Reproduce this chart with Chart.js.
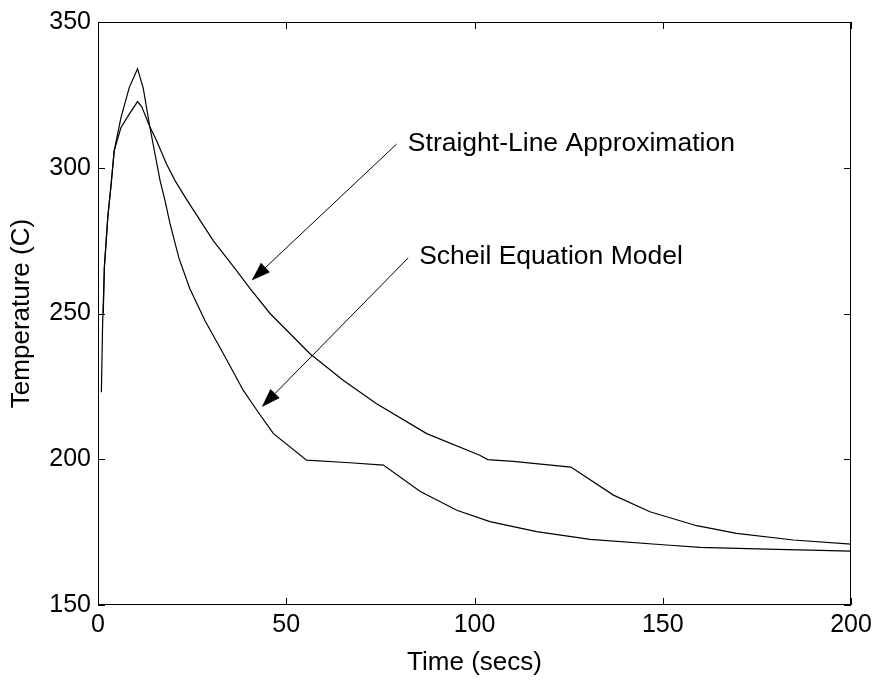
<!DOCTYPE html>
<html>
<head>
<meta charset="utf-8">
<script src="https://cdn.jsdelivr.net/npm/chart.js@4"></script>
<style>
  html, body { margin: 0; padding: 0; background: #fff; }
  #wrap { width: 877px; height: 681px; }
</style>
</head>
<body>
<div id="wrap"><canvas id="c" width="877" height="681"></canvas></div>
<script>
// ---- Data ----
const xTicks = [0, 50, 100, 150, 200];
const yTicks = [150, 200, 250, 300, 350];

const scheilTime = [0.9, 1.2, 1.7, 2.6, 3.5, 4.3, 6.1, 8.3, 10.5, 12.0, 13.8, 16.5, 17.8, 19.1, 21.5, 24.4, 28.4, 33.3, 38.6, 42.2, 46.6, 55.4, 66.9, 75.8, 85.5, 95.3, 104.1, 116.5, 130.7, 151.9, 159.9, 177.6, 200];
const scheilTemp = [223, 245, 266, 283, 294.5, 305.8, 317.2, 327.5, 334, 327.4, 313.8, 295.5, 288.7, 281, 269, 258.5, 247.6, 236.2, 223.6, 216.8, 208.8, 199.7, 198.8, 198, 189, 182.5, 178.6, 175.2, 172.5, 170.5, 169.8, 169.2, 168.5];

const straightTime = [1.4, 1.7, 2.6, 3.5, 4.3, 6.1, 8.3, 10.5, 11.6, 13.8, 15.6, 18.2, 20.5, 23.6, 30.6, 33.3, 36.8, 40.4, 45.7, 56.3, 65.2, 74.0, 87.3, 101.4, 103.5, 110.3, 125.6, 136.9, 146.6, 159.0, 169.6, 184.7, 200];
const straightTemp = [250, 266, 283, 294.5, 305.8, 313.8, 318.4, 322.7, 321, 314, 309.2, 301.3, 295.5, 289, 275, 270.5, 264.7, 258.5, 250, 236.2, 227, 219, 208.8, 201.4, 199.9, 199.3, 197.3, 187.7, 182, 177.2, 174.6, 172.3, 170.9];

const labelTexts = ['Straight-Line Approximation', 'Scheil Equation Model'];
// annotation anchors in data units: [textX, textY, arrowStartX, arrowStartY, arrowTipX, arrowTipY]
const labelAnchors = [
  [82.3, 308.2, 79.3, 308.1, 40.8, 261.3],
  [85.3, 269.5, 82.4, 269.1, 43.5, 217.9]
];

const toPoints = (xs, ys) => xs.map((x, i) => ({ x: x, y: ys[i] }));

const FONT = "'Liberation Sans', Arial, Helvetica, sans-serif";

const matlabAxes = {
  id: 'matlabAxes',
  afterDraw(chart) {
    const { ctx, chartArea: a, scales: { x, y } } = chart;
    ctx.save();
    ctx.strokeStyle = '#000';
    ctx.lineWidth = 1;
    ctx.strokeRect(a.left + 0.5, a.top + 0.5, a.right - a.left - 1, a.bottom - a.top - 1);
    const L = 7;
    ctx.beginPath();
    xTicks.forEach(v => {
      const px = Math.round(x.getPixelForValue(v)) + 0.5;
      ctx.moveTo(px, a.bottom); ctx.lineTo(px, a.bottom - L);
      ctx.moveTo(px, a.top); ctx.lineTo(px, a.top + L);
    });
    yTicks.forEach(v => {
      const py = Math.round(y.getPixelForValue(v)) + 0.5;
      ctx.moveTo(a.left, py); ctx.lineTo(a.left + L, py);
      ctx.moveTo(a.right, py); ctx.lineTo(a.right - L, py);
    });
    ctx.stroke();

    // annotations with arrows
    ctx.font = '26.5px ' + FONT;
    ctx.fillStyle = '#000';
    ctx.textBaseline = 'middle';
    ctx.textAlign = 'left';
    labelAnchors.forEach((an, i) => {
      const tx = x.getPixelForValue(an[0]), ty = y.getPixelForValue(an[1]);
      ctx.fillText(labelTexts[i], tx, ty);
      const sx = x.getPixelForValue(an[2]), sy = y.getPixelForValue(an[3]);
      const ex = x.getPixelForValue(an[4]), ey = y.getPixelForValue(an[5]);
      const ang = Math.atan2(ey - sy, ex - sx);
      const hl = 19, hw = 6.5;
      const bx = ex - hl * Math.cos(ang), by = ey - hl * Math.sin(ang);
      ctx.beginPath();
      ctx.lineWidth = 1;
      ctx.moveTo(sx, sy); ctx.lineTo(bx, by);
      ctx.stroke();
      ctx.beginPath();
      ctx.moveTo(ex, ey);
      ctx.lineTo(bx + hw * Math.sin(ang), by - hw * Math.cos(ang));
      ctx.lineTo(bx - hw * Math.sin(ang), by + hw * Math.cos(ang));
      ctx.closePath();
      ctx.fill();
    });
    ctx.restore();
  }
};

new Chart(document.getElementById('c'), {
  type: 'line',
  data: {
    datasets: [
      { label: 'Scheil Equation Model', data: toPoints(scheilTime, scheilTemp), borderColor: '#000', borderWidth: 1.2, pointRadius: 0, tension: 0, fill: false },
      { label: 'Straight-Line Approximation', data: toPoints(straightTime, straightTemp), borderColor: '#000', borderWidth: 1.2, pointRadius: 0, tension: 0, fill: false }
    ]
  },
  options: {
    responsive: false,
    devicePixelRatio: 1,
    animation: false,
    layout: { padding: { top: 21, right: 26, left: 0, bottom: 0 } },
    plugins: { legend: { display: false }, tooltip: { enabled: false } },
    scales: {
      x: {
        type: 'linear', min: 0, max: 200,
        afterBuildTicks: s => { s.ticks = xTicks.map(v => ({ value: v })); },
        afterFit: s => { s.height = 76; },
        ticks: { color: '#000', font: { family: FONT, size: 25 }, padding: 5, maxRotation: 0 },
        grid: { display: false, drawTicks: false },
        border: { display: false },
        title: { display: true, text: 'Time (secs)', color: '#000', font: { family: FONT, size: 26 }, padding: { top: 0, bottom: 3 } }
      },
      y: {
        type: 'linear', min: 150, max: 350,
        afterBuildTicks: s => { s.ticks = yTicks.map(v => ({ value: v })); },
        afterFit: s => { s.width = 98; },
        ticks: { color: '#000', font: { family: FONT, size: 25 }, padding: 7 },
        grid: { display: false, drawTicks: false },
        border: { display: false },
        title: { display: true, text: 'Temperature (C)', color: '#000', font: { family: FONT, size: 26 }, padding: { top: 6, bottom: 0 } }
      }
    }
  },
  plugins: [matlabAxes]
});
</script>
</body>
</html>
